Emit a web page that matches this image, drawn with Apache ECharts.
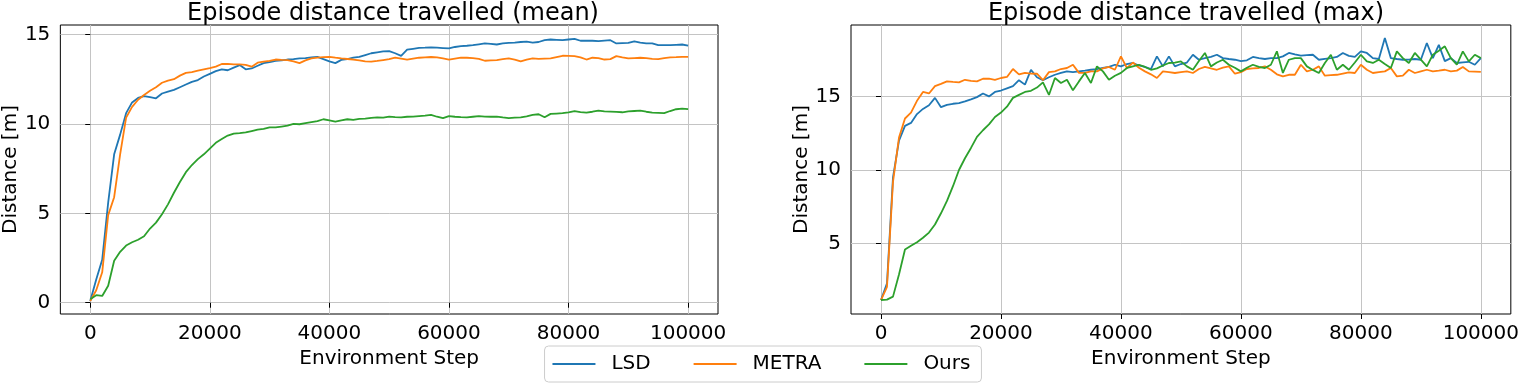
<!DOCTYPE html>
<html>
<head>
<meta charset="utf-8">
<script src="https://cdn.jsdelivr.net/npm/echarts/dist/echarts.min.js"></script>
<style>
    html, body { margin: 0; padding: 0; background: #fff; }
    #chart { width: 1522px; height: 383px; }
</style>
</head>
<body>
<div id="chart"></div>
<script>
// environment steps (shared by all series)
const steps = [0, 1000, 2000, 3000, 4000, 5000, 6000, 7000, 8000, 9000,
    10000, 11000, 12000, 13000, 14000, 15000, 16000, 17000, 18000, 19000,
    20000, 21000, 22000, 23000, 24000, 25000, 26000, 27000, 28000, 29000,
    30000, 31000, 32000, 33000, 34000, 35000, 36000, 37000, 38000, 39000,
    40000, 41000, 42000, 43000, 44000, 45000, 46000, 47000, 48000, 49000,
    50000, 51000, 52000, 53000, 54000, 55000, 56000, 57000, 58000, 59000,
    60000, 61000, 62000, 63000, 64000, 65000, 66000, 67000, 68000, 69000,
    70000, 71000, 72000, 73000, 74000, 75000, 76000, 77000, 78000, 79000,
    80000, 81000, 82000, 83000, 84000, 85000, 86000, 87000, 88000, 89000,
    90000, 91000, 92000, 93000, 94000, 95000, 96000, 97000, 98000, 99000, 100000]

const xTicks = [0, 20000, 40000, 60000, 80000, 100000]
const yTicksMean = [0, 5, 10, 15]
const yTicksMax = [5, 10, 15]

// mean distance
const lsdMean = [0.1, 1.3, 2.4, 5.6, 8.3, 9.4, 10.6, 11.2, 11.45, 11.55,
    11.5, 11.43, 11.7, 11.8, 11.9, 12.05, 12.2, 12.35, 12.45, 12.65,
    12.8, 12.95, 13.05, 13.0, 13.15, 13.29, 13.05, 13.1, 13.25, 13.4,
    13.45, 13.53, 13.55, 13.6, 13.62, 13.66, 13.68, 13.72, 13.75, 13.62,
    13.5, 13.4, 13.58, 13.62, 13.7, 13.75, 13.85, 13.95, 14.0, 14.05,
    14.07, 13.95, 13.8, 14.15, 14.2, 14.25, 14.26, 14.28, 14.26, 14.24,
    14.22, 14.3, 14.35, 14.37, 14.4, 14.45, 14.5, 14.48, 14.44, 14.5,
    14.53, 14.55, 14.58, 14.6, 14.55, 14.58, 14.68, 14.72, 14.7, 14.68,
    14.72, 14.76, 14.65, 14.66, 14.65, 14.63, 14.66, 14.68, 14.5, 14.52,
    14.53, 14.62, 14.55, 14.5, 14.5, 14.4, 14.41, 14.4, 14.42, 14.44, 14.38]
const metraMean = [0.1, 0.7, 1.7, 4.9, 5.9, 8.3, 10.35, 10.95, 11.35, 11.62,
    11.85, 12.05, 12.3, 12.42, 12.5, 12.7, 12.85, 12.9, 12.98, 13.05,
    13.12, 13.2, 13.35, 13.36, 13.33, 13.33, 13.3, 13.2, 13.42, 13.48,
    13.52, 13.6, 13.58, 13.57, 13.5, 13.4, 13.55, 13.66, 13.7, 13.73,
    13.75, 13.7, 13.66, 13.63, 13.6, 13.55, 13.5, 13.48, 13.52, 13.57,
    13.62, 13.7, 13.65, 13.6, 13.65, 13.7, 13.72, 13.74, 13.72, 13.66,
    13.6, 13.65, 13.7, 13.7, 13.68, 13.64, 13.53, 13.55, 13.57, 13.62,
    13.66, 13.6, 13.5, 13.6, 13.66, 13.64, 13.65, 13.66, 13.74, 13.81,
    13.8, 13.79, 13.72, 13.6, 13.7, 13.68, 13.6, 13.62, 13.79, 13.72,
    13.66, 13.68, 13.7, 13.68, 13.64, 13.62, 13.68, 13.72, 13.73, 13.75, 13.75]
const oursMean = [0.2, 0.42, 0.38, 0.95, 2.35, 2.85, 3.2, 3.38, 3.52, 3.72,
    4.15, 4.48, 4.95, 5.5, 6.15, 6.75, 7.3, 7.7, 8.03, 8.3,
    8.62, 8.94, 9.15, 9.35, 9.46, 9.48, 9.52, 9.6, 9.68, 9.72,
    9.81, 9.8, 9.85, 9.9, 10.0, 9.98, 10.04, 10.1, 10.15, 10.26,
    10.2, 10.13, 10.2, 10.26, 10.22, 10.28, 10.3, 10.34, 10.37, 10.35,
    10.41, 10.38, 10.37, 10.4, 10.41, 10.44, 10.46, 10.5, 10.4, 10.32,
    10.43, 10.4, 10.38, 10.37, 10.4, 10.43, 10.41, 10.4, 10.41, 10.36,
    10.32, 10.35, 10.37, 10.42, 10.5, 10.54, 10.37, 10.56, 10.58, 10.6,
    10.65, 10.71, 10.66, 10.63, 10.68, 10.74, 10.7, 10.69, 10.67, 10.65,
    10.7, 10.72, 10.74, 10.68, 10.63, 10.62, 10.6, 10.72, 10.82, 10.85, 10.83]

// max distance
const lsdMax = [1.17, 2.3, 9.5, 12.0, 13.0, 13.2, 13.8, 14.15, 14.4, 14.9,
    14.27, 14.43, 14.5, 14.55, 14.66, 14.8, 14.95, 15.2, 15.0, 15.3,
    15.4, 15.55, 15.7, 16.1, 15.8, 16.8, 16.3, 16.1, 16.3, 16.47,
    16.6, 16.7, 16.65, 16.7, 16.75, 16.81, 16.85, 16.93, 17.0, 17.15,
    17.04, 17.2, 17.27, 17.1, 17.0, 16.86, 17.72, 17.04, 17.72, 17.04,
    17.2, 17.3, 17.83, 17.49, 17.6, 17.68, 17.83, 17.6, 17.54, 17.49,
    17.4, 17.45, 17.68, 17.6, 17.54, 17.6, 17.6, 17.72, 17.95, 17.85,
    17.77, 17.8, 17.83, 17.49, 17.55, 17.6, 17.68, 17.95, 17.75, 17.68,
    18.06, 17.95, 17.6, 17.54, 18.97, 17.6, 17.54, 17.49, 17.5, 17.54,
    17.49, 18.63, 17.6, 18.5, 17.4, 17.6, 17.27, 17.31, 17.35, 17.15, 17.6]
const metraMax = [1.17, 2.07, 9.2, 12.2, 13.5, 13.9, 14.7, 15.3, 15.2, 15.7,
    15.85, 16.02, 15.98, 15.95, 16.13, 16.05, 16.02, 16.2, 16.2, 16.13,
    16.25, 16.32, 16.86, 16.5, 16.6, 16.55, 16.54, 16.1, 16.65, 16.7,
    16.86, 16.93, 17.15, 16.6, 16.6, 16.7, 16.7, 16.9, 17.0, 16.81,
    17.72, 16.93, 17.3, 16.95, 16.7, 16.5, 16.25, 16.7, 16.65, 16.59,
    16.65, 16.7, 16.59, 16.86, 17.0, 16.9, 16.81, 16.95, 17.04, 16.54,
    16.65, 16.86, 16.9, 16.93, 17.04, 16.81, 16.5, 16.36, 16.47, 16.47,
    17.15, 16.7, 16.81, 17.04, 16.41, 16.45, 16.47, 16.55, 16.63, 16.59,
    17.15, 16.81, 16.59, 16.65, 16.7, 16.93, 16.36, 16.41, 16.81, 16.59,
    16.7, 16.81, 16.7, 16.75, 16.81, 16.7, 16.75, 17.0, 16.7, 16.68, 16.66]
const oursMax = [1.17, 1.2, 1.4, 2.9, 4.6, 4.85, 5.1, 5.4, 5.75, 6.3,
    7.06, 7.9, 8.9, 10.0, 10.8, 11.5, 12.25, 12.7, 13.1, 13.6,
    13.9, 14.3, 14.9, 15.1, 15.3, 15.38, 15.6, 15.95, 15.1, 16.25,
    15.91, 16.13, 15.41, 16.02, 16.59, 15.91, 17.04, 16.7, 16.13, 16.4,
    16.6, 16.93, 17.04, 17.15, 17.0, 16.81, 16.9, 17.1, 17.27, 17.3,
    17.38, 17.04, 16.81, 17.4, 17.95, 17.04, 17.3, 17.49, 17.15, 16.95,
    16.7, 16.95, 17.15, 17.0, 16.93, 17.15, 18.06, 16.59, 17.49, 17.6,
    17.6, 17.04, 16.8, 16.59, 17.27, 17.83, 16.81, 17.15, 16.81, 17.3,
    17.83, 17.38, 17.27, 17.49, 17.2, 16.93, 18.06, 17.6, 17.27, 17.95,
    17.5, 17.04, 17.83, 18.1, 18.4, 17.6, 17.15, 18.06, 17.38, 17.83, 17.6]

const names = ['LSD', 'METRA', 'Ours']
const colors = ['#1f77b4', '#ff7f0e', '#2ca02c']
const font = 'DejaVu Sans'

function pairs(values) {
    return steps.map((s, i) => [s, values[i]])
}

function plain(v) {
    return String(v)
}

function makeX(idx) {
    return {
        type: 'value',
        gridIndex: idx,
        min: -5000,
        max: 105000,
        name: 'Environment Step',
        nameLocation: 'middle',
        nameGap: 31,
        nameTextStyle: { fontFamily: font, fontSize: 20, color: '#000' },
        axisLine: { show: false },
        axisTick: { show: true, inside: false, length: 5, customValues: xTicks, lineStyle: { color: '#000' } },
        axisLabel: { customValues: xTicks, formatter: plain, margin: 10, fontFamily: font, fontSize: 20, color: '#000' },
        splitLine: { show: true, lineStyle: { color: '#c4c4c4', width: 1 } }
    }
}

function makeY(idx, min, max, ticks) {
    return {
        type: 'value',
        gridIndex: idx,
        min: min,
        max: max,
        name: 'Distance [m]',
        nameLocation: 'middle',
        nameGap: 39,
        nameTextStyle: { fontFamily: font, fontSize: 20, color: '#000' },
        axisLine: { show: false },
        axisTick: { show: true, inside: false, length: 5, customValues: ticks, lineStyle: { color: '#000' } },
        axisLabel: { customValues: ticks, formatter: plain, margin: 10, fontFamily: font, fontSize: 20, color: '#000' },
        splitLine: { show: true, lineStyle: { color: '#c4c4c4', width: 1 } }
    }
}

function makeSeries(idx, values, i) {
    return {
        type: 'line',
        name: names[i],
        xAxisIndex: idx,
        yAxisIndex: idx,
        data: pairs(values),
        symbol: 'none',
        showSymbol: false,
        lineStyle: { color: colors[i], width: 1.8 },
        itemStyle: { color: colors[i] },
        animation: false
    }
}

const myChart = echarts.init(document.getElementById('chart'))
myChart.setOption({
    animation: false,
    title: [
        { text: 'Episode distance travelled (mean)', left: 388, top: -3, textAlign: 'center',
          textStyle: { fontFamily: font, fontSize: 24, fontWeight: 'normal', color: '#000' } },
        { text: 'Episode distance travelled (max)', left: 1181, top: -3, textAlign: 'center',
          textStyle: { fontFamily: font, fontSize: 24, fontWeight: 'normal', color: '#000' } }
    ],
    legend: {
        data: names,
        left: 'center',
        top: 346,
        itemWidth: 43,
        itemHeight: 14,
        itemGap: 42,
        padding: [8, 11, 8, 7],
        borderColor: '#cccccc',
        borderWidth: 1,
        borderRadius: 4,
        itemStyle: { opacity: 0 },
        lineStyle: { width: 1.8 },
        textStyle: { fontFamily: font, fontSize: 20, color: '#000', padding: [0, 0, 0, 11] }
    },
    grid: [
        { left: 58, top: 25, width: 660, height: 289, show: true, borderColor: '#000', borderWidth: 1, backgroundColor: 'transparent' },
        { left: 851, top: 25, width: 660, height: 289, show: true, borderColor: '#000', borderWidth: 1, backgroundColor: 'transparent' }
    ],
    xAxis: [makeX(0), makeX(1)],
    yAxis: [makeY(0, -0.63, 15.53, yTicksMean), makeY(1, 0.22, 19.85, yTicksMax)],
    series: [
        makeSeries(0, lsdMean, 0),
        makeSeries(0, metraMean, 1),
        makeSeries(0, oursMean, 2),
        makeSeries(1, lsdMax, 0),
        makeSeries(1, metraMax, 1),
        makeSeries(1, oursMax, 2)
    ]
})
</script>
</body>
</html>
